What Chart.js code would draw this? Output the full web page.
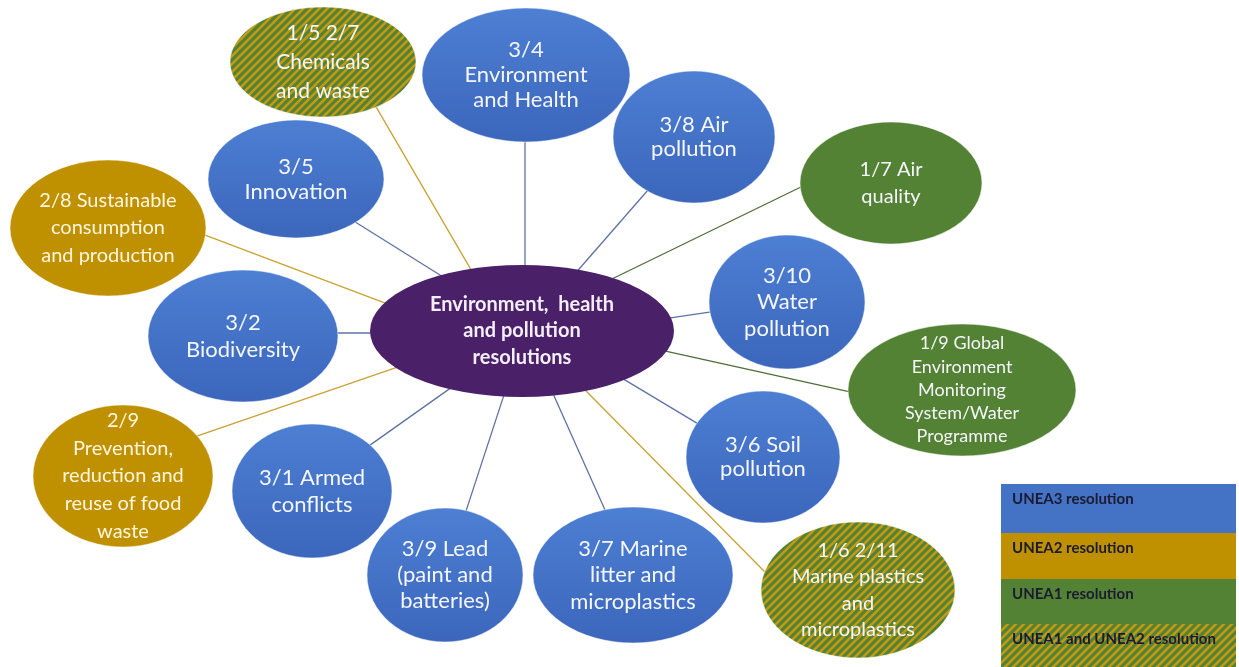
<!DOCTYPE html>
<html>
<head>
<meta charset="utf-8">
<script src="https://cdn.jsdelivr.net/npm/chart.js@4"></script>
<style>
body { margin: 0; background: #fff; }
#wrap { width: 1239px; height: 667px; }
</style>
</head>
<body>
<div id="wrap"><canvas id="grafico"></canvas></div>
<script>
// hub + resolution nodes
const hub_label = ["Environment,  health", "and pollution", "resolutions"]
const hub_pos = [522, 331]

const node_labels = [
    ["1/5 2/7", "Chemicals", "and waste"],
    ["3/4", "Environment", "and Health"],
    ["3/8 Air", "pollution"],
    ["1/7 Air", "quality"],
    ["3/5", "Innovation"],
    ["2/8 Sustainable", "consumption", "and production"],
    ["3/10", "Water", "pollution"],
    ["3/2", "Biodiversity"],
    ["1/9 Global", "Environment", "Monitoring", "System/Water", "Programme"],
    ["2/9", "Prevention,", "reduction and", "reuse of food", "waste"],
    ["3/1 Armed", "conflicts"],
    ["3/6 Soil", "pollution"],
    ["3/9 Lead", "(paint and", "batteries)"],
    ["3/7 Marine", "litter and", "microplastics"],
    ["1/6 2/11", "Marine plastics", "and", "microplastics"]
]
const node_session = ["both", "unea3", "unea3", "unea1", "unea3", "unea2", "unea3", "unea3",
    "unea1", "unea2", "unea3", "unea3", "unea3", "unea3", "both"]

const legend_keys = ["unea3", "unea2", "unea1", "both"]
const legend_labels = ["UNEA3 resolution", "UNEA2 resolution", "UNEA1 resolution", "UNEA1 and UNEA2 resolution"]

// layout (diagram coordinates)
const node_x = [323, 526, 694, 891, 296, 108, 787, 243, 962, 123, 312, 763, 445, 633, 858]
const node_y = [62, 75, 137, 183, 179, 228, 302, 336, 390, 476, 491, 457, 575, 575, 590]
const node_rx = [93, 104, 81, 91, 88, 98, 78, 95, 114, 90, 80, 77, 78, 100, 97]
const node_ry = [55, 67, 66, 61, 59, 68, 67, 66, 66, 71, 67, 66, 67, 68, 68]
const link_from_x = [470, 525, 580, 618, 440, 385, 670, 370, 670, 395, 445, 630, 503, 555, 590]
const link_from_y = [268, 265, 268, 276, 275, 303, 318, 333, 352, 368, 392, 383, 398, 398, 395]
const link_to_x = [375, 525, 648, 805, 360, 210, 710, 338, 850, 200, 373, 695, 467, 605, 765]
const link_to_y = [105, 143, 190, 185, 225, 237, 312, 333, 392, 435, 443, 422, 508, 510, 572]

const font_size = [21, 22, 22, 20, 22, 20, 22, 22, 18, 20, 22, 22, 22, 22, 20]
const line_h = [29, 25, 24, 27, 25, 27.5, 26.5, 27, 23.3, 27.7, 27, 24, 26, 26.5, 26.5]

const cores = {
    unea3: "#4472c4",
    unea2: "#bf9000",
    unea1: "#548235",
    both: "#548235"
}
const cores_linha = {
    unea3: "#5e72a2",
    unea2: "#c8a232",
    unea1: "#4f6f3a",
    both: "#c8a232"
}

function padrao_riscas(ctx) {
    const t = document.createElement("canvas")
    t.width = 8
    t.height = 8
    const c = t.getContext("2d")
    c.fillStyle = "#548235"
    c.fillRect(0, 0, 8, 8)
    c.strokeStyle = "#c49a12"
    c.lineWidth = 2.6
    c.beginPath()
    c.moveTo(-1, 9); c.lineTo(9, -1)
    c.moveTo(-2, 2); c.lineTo(2, -2)
    c.moveTo(6, 10); c.lineTo(10, 6)
    c.stroke()
    return ctx.createPattern(t, "repeat")
}

function preenchimento(ctx, key, top, bottom) {
    if (key === "both") return padrao_riscas(ctx)
    if (key === "unea3") {
        const g = ctx.createLinearGradient(0, top, 0, bottom)
        g.addColorStop(0, "#4d7fd3")
        g.addColorStop(1, "#3b66bc")
        return g
    }
    return cores[key]
}

const diagrama = {
    id: "diagrama",
    afterDatasetsDraw(chart) {
        const ctx = chart.ctx
        const sx = chart.scales.x
        const sy = chart.scales.y
        ctx.save()

        // resolution nodes
        node_x.forEach((v, i) => {
            const px = sx.getPixelForValue(v)
            const py = sy.getPixelForValue(node_y[i])
            const rx = sx.getPixelForValue(v + node_rx[i]) - px
            const ry = sy.getPixelForValue(node_y[i] + node_ry[i]) - py
            const key = node_session[i]
            ctx.beginPath()
            ctx.ellipse(px, py, Math.abs(rx), Math.abs(ry), 0, 0, Math.PI * 2)
            ctx.fillStyle = preenchimento(ctx, key, py - Math.abs(ry), py + Math.abs(ry))
            ctx.fill()
            ctx.lineWidth = 1
            ctx.strokeStyle = "rgba(255,255,255,0.5)"
            ctx.stroke()

            const lines = node_labels[i]
            ctx.font = font_size[i] + "px Lato"
            ctx.fillStyle = key === "unea2" ? "#fff6dc" : "#f4f6fa"
            ctx.textAlign = "center"
            ctx.textBaseline = "middle"
            lines.forEach((txt, j) => {
                ctx.fillText(txt, px, py + (j - (lines.length - 1) / 2) * line_h[i])
            })
        })

        // hub
        const hx = sx.getPixelForValue(hub_pos[0])
        const hy = sy.getPixelForValue(hub_pos[1])
        ctx.beginPath()
        ctx.ellipse(hx, hy, 152, 66, 0, 0, Math.PI * 2)
        ctx.fillStyle = "#4a2068"
        ctx.fill()
        ctx.font = "bold 20px Lato"
        ctx.fillStyle = "#f3eef7"
        hub_label.forEach((txt, j) => {
            ctx.fillText(txt, hx, hy + (j - 1) * 26.5)
        })

        // legend box
        const row_top = [484, 533, 579, 624, 667]
        legend_keys.forEach((key, i) => {
            const y0 = row_top[i], y1 = row_top[i + 1]
            ctx.fillStyle = key === "both" ? padrao_riscas(ctx) : cores[key]
            ctx.fillRect(1001, y0, 235, y1 - y0)
            ctx.font = "bold 15px Lato"
            ctx.fillStyle = "#1b1b33"
            ctx.textAlign = "left"
            ctx.fillText(legend_labels[i], 1012, y0 + 15)
        })
        ctx.restore()
    }
}

function extender(i) {
    const dx = link_to_x[i] - link_from_x[i]
    const dy = link_to_y[i] - link_from_y[i]
    const len = Math.sqrt(dx * dx + dy * dy)
    const ux = dx / len * 8, uy = dy / len * 8
    return [
        { x: link_from_x[i] - ux, y: link_from_y[i] - uy },
        { x: link_to_x[i] + ux, y: link_to_y[i] + uy }
    ]
}

const datasets = node_labels.map((lbl, i) => ({
    type: "line",
    label: lbl.join(" "),
    data: extender(i),
    borderColor: cores_linha[node_session[i]],
    borderWidth: 1.3,
    pointRadius: 0,
    showLine: true,
    fill: false
}))

datasets.push({
    type: "scatter",
    label: "nodes",
    data: node_x.map((x, i) => ({ x: x, y: node_y[i] })),
    pointRadius: 0
})

const config = {
    type: "scatter",
    data: { datasets: datasets },
    options: {
        responsive: true,
        maintainAspectRatio: false,
        animation: false,
        events: [],
        layout: { padding: 0 },
        scales: {
            x: { type: "linear", display: false, min: 0, max: 1239 },
            y: { type: "linear", display: false, min: 0, max: 667, reverse: true }
        },
        plugins: {
            legend: { display: false },
            tooltip: { enabled: false }
        }
    },
    plugins: [diagrama]
}

new Chart(document.getElementById("grafico"), config)
</script>
</body>
</html>
